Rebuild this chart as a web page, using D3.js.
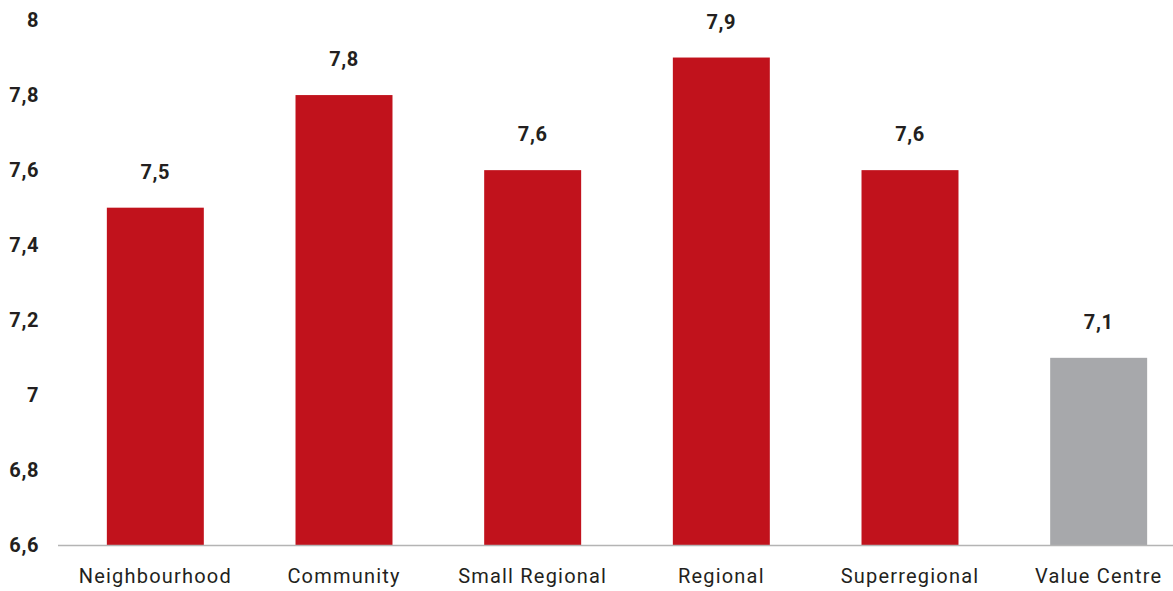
<!DOCTYPE html>
<html>
<head>
<meta charset="utf-8">
<script src="https://cdn.jsdelivr.net/npm/d3@7"></script>
<style>
  body { margin: 0; background: #fff; }
  text { font-family: Roboto, "Noto Sans", sans-serif; fill: #231f20; }
</style>
</head>
<body>
<script>
// data
var categories = ["Neighbourhood", "Community", "Small Regional", "Regional", "Superregional", "Value Centre"];
var values = [7.5, 7.8, 7.6, 7.9, 7.6, 7.1];
var barColors = ["#c1121c", "#c1121c", "#c1121c", "#c1121c", "#c1121c", "#a7a8ab"];
var yTicks = [6.6, 6.8, 7, 7.2, 7.4, 7.6, 7.8, 8];

var width = 1173, height = 591;

var svg = d3.select("body").append("svg")
    .attr("width", width)
    .attr("height", height);

// scales
var x = d3.scaleBand()
    .domain(categories)
    .range([61, 1193])
    .paddingInner(0.486)
    .paddingOuter(0.243);

var y = d3.scaleLinear()
    .domain([6.6, 8])
    .range([545.5, 20]);

var fmt = function(v) { return String(v).replace(".", ","); };

// y axis labels
var yAxis = d3.axisLeft(y)
    .tickValues(yTicks)
    .tickFormat(fmt)
    .tickSize(0)
    .tickPadding(0);

svg.append("g")
    .attr("transform", "translate(39,0)")
    .call(yAxis)
    .call(function(g) {
        g.select(".domain").remove();
        g.selectAll("text")
            .style("font-size", "20px")
            .style("font-weight", "bold")
            .style("letter-spacing", "0.6px")
            .attr("fill", "#231f20");
    });

// bars
svg.append("g").selectAll("rect")
    .data(values)
    .enter()
    .append("rect")
    .attr("x", function(d, i) { return x(categories[i]); })
    .attr("y", function(d) { return y(d); })
    .attr("width", x.bandwidth())
    .attr("height", function(d) { return y(6.6) - y(d); })
    .attr("fill", function(d, i) { return barColors[i]; });

// baseline
svg.append("line")
    .attr("x1", 58).attr("x2", 1173)
    .attr("y1", y(6.6)).attr("y2", y(6.6))
    .attr("stroke", "#b4b4b4")
    .attr("stroke-width", 1.5);

// value labels
svg.append("g").selectAll("text")
    .data(values)
    .enter()
    .append("text")
    .attr("x", function(d, i) { return x(categories[i]) + x.bandwidth() / 2; })
    .attr("y", function(d) { return y(d) - 36; })
    .attr("dy", "0.35em")
    .attr("text-anchor", "middle")
    .style("font-size", "20px")
    .style("font-weight", "bold")
    .style("letter-spacing", "0.6px")
    .text(fmt);

// category labels
var xAxis = d3.axisBottom(x).tickSize(0).tickPadding(0);
svg.append("g")
    .attr("transform", "translate(0,569)")
    .call(xAxis)
    .call(function(g) {
        g.select(".domain").remove();
        g.selectAll("text")
            .style("font-size", "20px")
            .style("letter-spacing", "1.2px")
            .attr("fill", "#231f20");
    });
</script>
</body>
</html>
